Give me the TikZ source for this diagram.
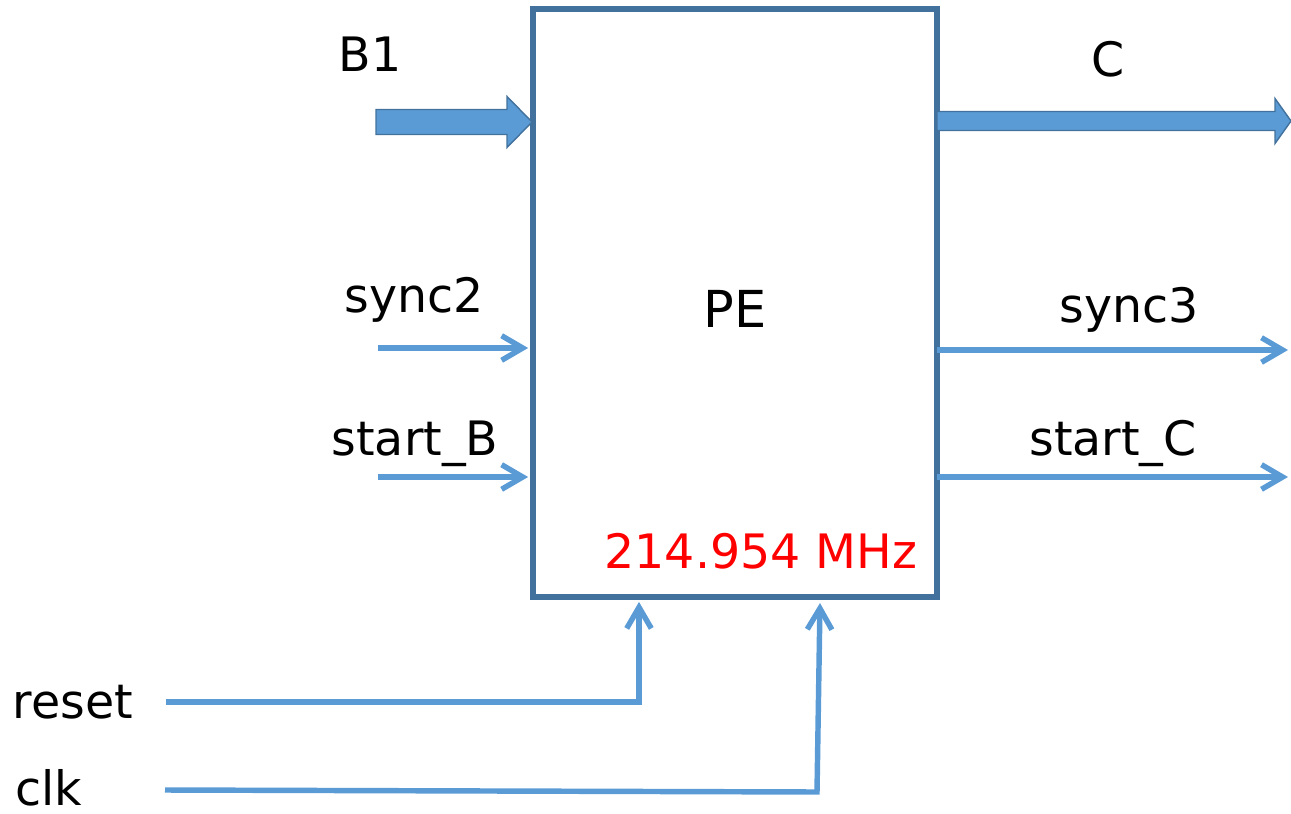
\documentclass[tikz,border=0pt]{standalone}
\usepackage{fontspec}
\setmainfont{DejaVu Sans}
\usetikzlibrary{arrows.meta,calc}
\definecolor{peedge}{HTML}{41719C}
\definecolor{peblue}{HTML}{5B9BD5}
\tikzset{
  pebox/.style={rectangle, draw=peedge, line width=3pt, minimum width=8.08cm, minimum height=11.76cm, inner sep=0pt, outer sep=0pt},
  siglabel/.style={anchor=base, inner sep=0pt, font=\fontsize{27}{31}\selectfont},
  sigline/.style={draw=peblue, line width=3.1pt, -{Straight Barb[length=12pt, width=14pt]}},
  busarrow/.style={fill=peblue, draw=peedge, line width=0.8pt, line join=miter}
}
\begin{document}
\begin{tikzpicture}[x=0.02cm, y=-0.02cm]
\useasboundingbox (0,0) rectangle (1291,814);
% processing element
\node[pebox] (pe) at (735,303) {};
\node[siglabel, font=\fontsize{29}{33}\selectfont] (pename) at (735,327) {PE};
\node[siglabel, text=red] (freq) at (761,568) {214.954 MHz};
% labels
\node[siglabel] (b1lbl) at (370,72) {B1};
\node[siglabel] (clbl) at (1108,77) {C};
\node[siglabel] (s2lbl) at (414,312) {sync2};
\node[siglabel] (sblbl) at (415,455) {start\_B};
\node[siglabel] (s3lbl) at (1129,322) {sync3};
\node[siglabel] (sclbl) at (1113,455) {start\_C};
\node[siglabel] (rstlbl) at (73,718) {reset};
\node[siglabel] (clklbl) at (49,805) {clk};
% free ends
\coordinate (b1tail) at (376,122);
\coordinate (b1tip) at (532,122);
\coordinate (ctail) at (937,121);
\coordinate (ctip) at (1291,121);
\coordinate (s2in) at (378,348);
\coordinate (sbin) at (378,477);
\coordinate (s3out) at (1288,350);
\coordinate (scout) at (1288,477);
\coordinate (rst) at (166,702);
\coordinate (rstin) at (639,597);
\coordinate (clk) at (165,790);
\coordinate (clkbend) at (817,792);
\coordinate (clkin) at (820,603);
% bus arrows
\draw[busarrow] ($(b1tail)+(0,-12.5)$) -- ($(b1tip)+(-25,-12.5)$) -- ($(b1tip)+(-25,-25.5)$)
  -- (b1tip) -- ($(b1tip)+(-25,25.5)$) -- ($(b1tip)+(-25,12.5)$) -- ($(b1tail)+(0,12.5)$) -- cycle;
\draw[busarrow] ($(ctail)+(0,-9.5)$) -- ($(ctip)+(-16,-9.5)$) -- ($(ctip)+(-16,-22.5)$)
  -- (ctip) -- ($(ctip)+(-16,22.5)$) -- ($(ctip)+(-16,9.5)$) -- ($(ctail)+(0,9.5)$) -- cycle;
% single signals
\draw[sigline, shorten >=2.8pt] (s2in) -- (s2in -| pe.west);
\draw[sigline, shorten >=2.8pt] (sbin) -- (sbin -| pe.west);
\draw[sigline] (s3out -| pe.east) -- (s3out);
\draw[sigline] (scout -| pe.east) -- (scout);
\draw[sigline, shorten >=2.8pt] (rst) -| (rstin);
\draw[sigline] (clk) -- (clkbend) -- (clkin);
\end{tikzpicture}
\end{document}
